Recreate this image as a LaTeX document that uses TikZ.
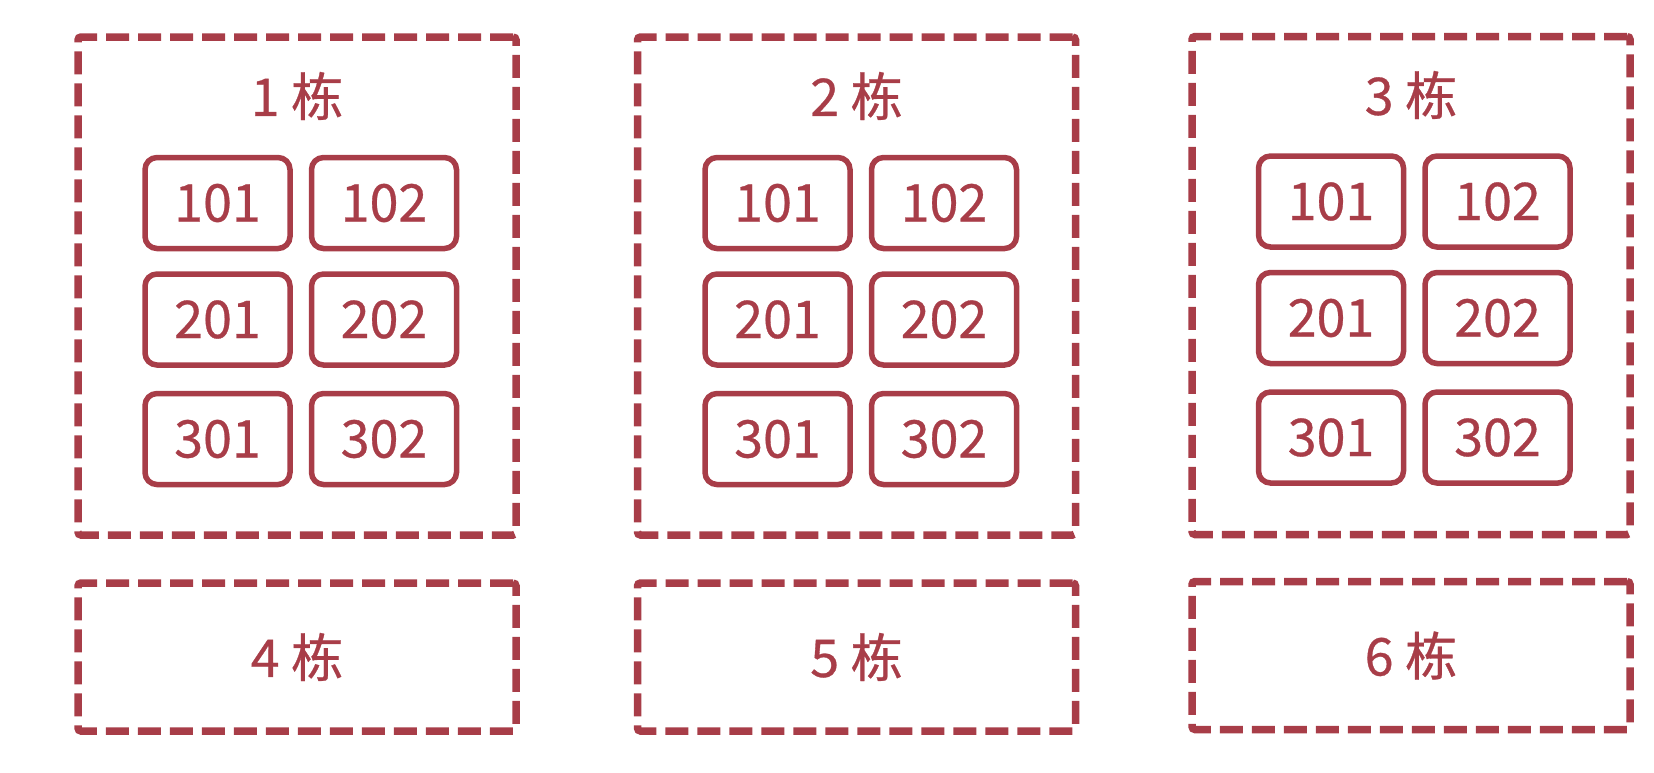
\documentclass[tikz,border=0pt]{standalone}
\usepackage{fontspec}
\setmainfont{Noto Sans CJK SC}[FakeBold=0.6]
\usepackage{tikz}
\usetikzlibrary{positioning}
\definecolor{wine}{RGB}{168,61,72}

\begin{document}
\begin{tikzpicture}[x=0.5pt, y=-0.5pt, node distance=83.25pt,
	every node/.style={text=wine, font=\fontsize{26}{30}\selectfont},
	building/.style={draw=wine, line width=3.75pt, dash pattern=on 11.5pt off 4.5pt,
		rounded corners=1.5pt, minimum width=219pt, inner sep=0pt},
	room/.style={draw=wine, line width=2.75pt, rounded corners=6pt,
		minimum width=72.5pt, minimum height=45.5pt, inner sep=0pt}]
	\useasboundingbox (0,0) rectangle (1654,772);

	\node(H1) [building, minimum height=249pt] at (297,286) {};
	\node(H2) [building, minimum height=249pt] at (856.5,286) {};
	\node(H3) [building, minimum height=249pt] at (1411,285.5) {};
	\node(H4) [building, minimum height=74pt] at (297,657) {};
	\node(H5) [building, minimum height=74pt] at (856.5,657) {};
	\node(H6) [building, minimum height=74pt] at (1411,655.5) {};

	\node(L1) at (297,96) {1 栋};
	\node(L2) at (856.5,96) {2 栋};
	\node(L3) at (1411,95) {3 栋};
	\node(L4) at (H4) {4 栋};
	\node(L5) at (H5) {5 栋};
	\node(L6) at (H6) {6 栋};

	\node(A101) [room] at (217.5,203) {101};
	\node(A102) [room, right of=A101] {102};
	\node(A201) [room, below of=A101, node distance=58.25pt] {201};
	\node(A202) [room, right of=A201] {202};
	\node(A301) [room, below of=A201, node distance=59.75pt] {301};
	\node(A302) [room, right of=A301] {302};

	\node(B101) [room] at (777.5,203) {101};
	\node(B102) [room, right of=B101] {102};
	\node(B201) [room, below of=B101, node distance=58.25pt] {201};
	\node(B202) [room, right of=B201] {202};
	\node(B301) [room, below of=B201, node distance=59.75pt] {301};
	\node(B302) [room, right of=B301] {302};

	\node(C101) [room] at (1331,201.5) {101};
	\node(C102) [room, right of=C101] {102};
	\node(C201) [room, below of=C101, node distance=58.25pt] {201};
	\node(C202) [room, right of=C201] {202};
	\node(C301) [room, below of=C201, node distance=59.75pt] {301};
	\node(C302) [room, right of=C301] {302};

\end{tikzpicture}
\end{document}
